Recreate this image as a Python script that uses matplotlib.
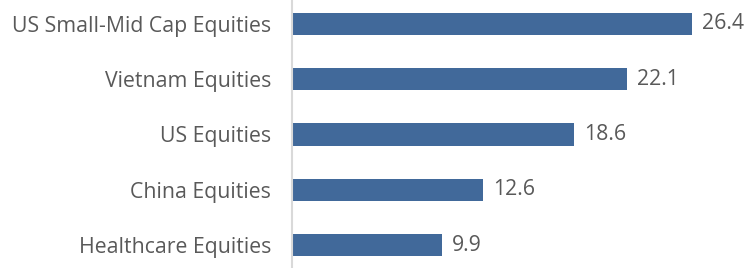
import matplotlib.pyplot as plt

categories = ['Healthcare Equities', 'China Equities', 'US Equities',
              'Vietnam Equities', 'US Small-Mid Cap Equities']
values = [9.9, 12.6, 18.6, 22.1, 26.4]
value_labels = ['9.9', '12.6', '18.6', '22.1', '26.4']

plt.rcParams['font.family'] = ['Open Sans', 'DejaVu Sans']

fig = plt.figure(figsize=(7.56, 2.68), dpi=100)
fig.patch.set_facecolor('white')
ax = fig.add_axes([292 / 756, 0, (747 - 292) / 756, 1])

pos = range(len(categories))
bars = ax.barh(pos, values, height=0.4, color='#41699a')

for b, lab in zip(bars, value_labels):
    ax.annotate(lab, (b.get_width(), b.get_y() + b.get_height() / 2),
                xytext=(7, 0), textcoords='offset points', va='center', ha='left',
                fontsize=15.3, color='#595959')

ax.set_xlim(0, 30)
ax.set_ylim(-0.416, 4.434)
ax.set_yticks(list(pos))
ax.set_yticklabels(categories, fontsize=15.3, color='#595959')
ax.tick_params(axis='y', length=0, pad=15)
ax.set_xticks([])
for s in ['top', 'right', 'bottom']:
    ax.spines[s].set_visible(False)
ax.spines['left'].set_color('#d9d9d9')
ax.spines['left'].set_linewidth(1.5)

fig.savefig('out.png', dpi=100, facecolor='white')
